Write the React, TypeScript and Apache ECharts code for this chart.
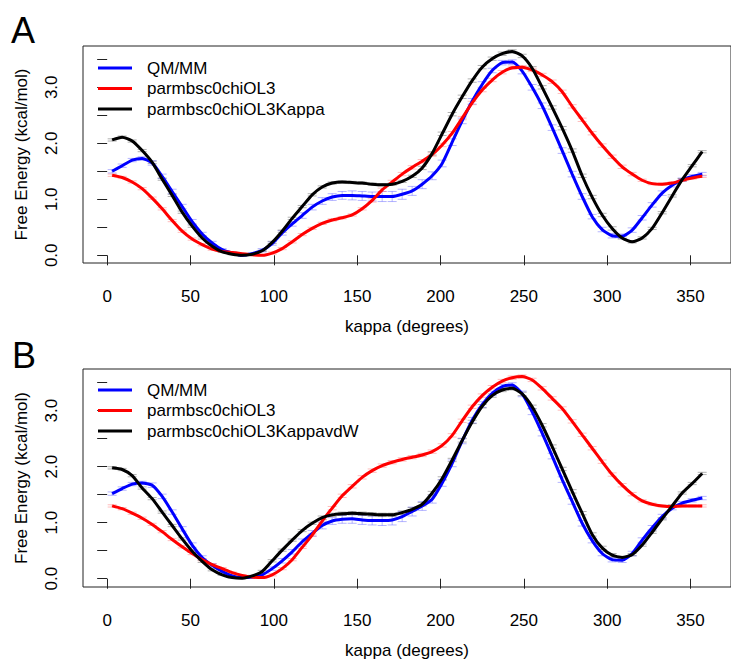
import React, { useEffect, useRef } from "react";
import * as echarts from "echarts";

// kappa (degrees) at which the free energy was sampled
const KAPPA = [3, 9, 15, 21, 27, 33, 39, 45, 51, 57, 63, 69, 75, 81, 87, 93, 99, 105, 111, 117,
  123, 129, 135, 141, 147, 153, 159, 165, 171, 177, 183, 189, 195, 201, 207, 213, 219, 225, 231, 237,
  243, 249, 255, 261, 267, 273, 279, 285, 291, 297, 303, 309, 315, 321, 327, 333, 339, 345, 351, 357];

// Panel A
const A_QMMM = [1.50, 1.60, 1.70, 1.73, 1.65, 1.41, 1.14, 0.87, 0.60, 0.38, 0.22, 0.10, 0.04, 0.00, 0.03, 0.09, 0.21, 0.40, 0.56, 0.71,
  0.86, 0.97, 1.04, 1.07, 1.07, 1.06, 1.05, 1.05, 1.05, 1.09, 1.15, 1.27, 1.42, 1.64, 2.02, 2.40, 2.75, 3.05, 3.30, 3.44,
  3.45, 3.29, 3.00, 2.67, 2.28, 1.87, 1.45, 1.05, 0.69, 0.46, 0.35, 0.34, 0.45, 0.67, 0.90, 1.11, 1.25, 1.35, 1.41, 1.45];
const A_QMMM_ERR = [0.03, 0.03, 0.03, 0.03, 0.04, 0.04, 0.04, 0.04, 0.04, 0.03, 0.03, 0.02, 0.02, 0.02, 0.02, 0.03, 0.03, 0.04, 0.04, 0.05,
  0.05, 0.06, 0.06, 0.07, 0.08, 0.08, 0.08, 0.09, 0.09, 0.09, 0.08, 0.08, 0.07, 0.06, 0.06, 0.05, 0.05, 0.05, 0.04, 0.04,
  0.04, 0.05, 0.05, 0.05, 0.05, 0.05, 0.05, 0.05, 0.04, 0.04, 0.04, 0.04, 0.04, 0.04, 0.04, 0.04, 0.03, 0.03, 0.03, 0.03];
const A_OL3 = [1.43, 1.39, 1.31, 1.19, 1.02, 0.83, 0.62, 0.43, 0.29, 0.19, 0.11, 0.07, 0.05, 0.03, 0.01, 0.00, 0.04, 0.12, 0.24, 0.37,
  0.48, 0.57, 0.63, 0.67, 0.72, 0.83, 0.98, 1.17, 1.31, 1.45, 1.57, 1.68, 1.80, 1.97, 2.18, 2.45, 2.72, 2.95, 3.13, 3.27,
  3.35, 3.36, 3.31, 3.22, 3.10, 2.92, 2.66, 2.42, 2.18, 1.96, 1.76, 1.58, 1.45, 1.34, 1.28, 1.27, 1.29, 1.34, 1.38, 1.41];
const A_OL3_ERR = [0.02, 0.02, 0.02, 0.02, 0.02, 0.02, 0.02, 0.02, 0.02, 0.02, 0.02, 0.01, 0.01, 0.01, 0.01, 0.01, 0.02, 0.02, 0.02, 0.02,
  0.02, 0.02, 0.02, 0.02, 0.02, 0.02, 0.03, 0.03, 0.03, 0.03, 0.03, 0.03, 0.03, 0.03, 0.03, 0.03, 0.03, 0.03, 0.03, 0.03,
  0.03, 0.03, 0.03, 0.03, 0.03, 0.03, 0.03, 0.03, 0.03, 0.03, 0.03, 0.03, 0.03, 0.02, 0.02, 0.02, 0.02, 0.02, 0.02, 0.02];
const A_KAPPA = [2.06, 2.11, 2.04, 1.87, 1.66, 1.36, 1.07, 0.77, 0.52, 0.31, 0.16, 0.06, 0.02, 0.00, 0.02, 0.08, 0.23, 0.43, 0.66, 0.87,
  1.08, 1.22, 1.29, 1.31, 1.30, 1.29, 1.27, 1.26, 1.27, 1.32, 1.41, 1.56, 1.82, 2.17, 2.52, 2.83, 3.12, 3.36, 3.51, 3.60,
  3.64, 3.56, 3.34, 3.00, 2.64, 2.27, 1.87, 1.42, 1.04, 0.72, 0.48, 0.31, 0.24, 0.31, 0.48, 0.76, 1.06, 1.35, 1.60, 1.85];
const A_KAPPA_ERR = [0.02, 0.02, 0.02, 0.02, 0.02, 0.02, 0.02, 0.02, 0.02, 0.02, 0.02, 0.01, 0.01, 0.01, 0.01, 0.01, 0.02, 0.02, 0.02, 0.02,
  0.02, 0.02, 0.02, 0.02, 0.02, 0.02, 0.02, 0.02, 0.02, 0.02, 0.02, 0.03, 0.03, 0.03, 0.03, 0.03, 0.03, 0.03, 0.03, 0.03,
  0.03, 0.03, 0.03, 0.03, 0.03, 0.03, 0.03, 0.03, 0.03, 0.03, 0.03, 0.02, 0.02, 0.02, 0.02, 0.02, 0.02, 0.02, 0.02, 0.02];

// Panel B
const B_QMMM = [1.52, 1.61, 1.69, 1.71, 1.67, 1.47, 1.19, 0.89, 0.60, 0.38, 0.24, 0.13, 0.05, 0.02, 0.03, 0.07, 0.18, 0.32, 0.48, 0.66,
  0.81, 0.95, 1.03, 1.06, 1.07, 1.05, 1.04, 1.04, 1.05, 1.11, 1.20, 1.30, 1.42, 1.71, 2.06, 2.46, 2.83, 3.11, 3.31, 3.43,
  3.46, 3.30, 2.98, 2.60, 2.19, 1.77, 1.38, 0.99, 0.68, 0.45, 0.34, 0.33, 0.45, 0.69, 0.91, 1.11, 1.26, 1.35, 1.40, 1.44];
const B_QMMM_ERR = A_QMMM_ERR;
const B_OL3 = [1.30, 1.25, 1.17, 1.08, 0.97, 0.84, 0.70, 0.57, 0.45, 0.34, 0.25, 0.18, 0.11, 0.06, 0.03, 0.02, 0.07, 0.18, 0.34, 0.56,
  0.78, 1.03, 1.26, 1.48, 1.65, 1.81, 1.93, 2.02, 2.08, 2.13, 2.17, 2.21, 2.27, 2.38, 2.56, 2.82, 3.07, 3.27, 3.42, 3.53,
  3.59, 3.61, 3.55, 3.40, 3.22, 3.04, 2.81, 2.57, 2.33, 2.09, 1.86, 1.67, 1.51, 1.39, 1.33, 1.30, 1.29, 1.30, 1.30, 1.30];
const B_OL3_ERR = [0.02, 0.02, 0.02, 0.02, 0.02, 0.02, 0.02, 0.02, 0.02, 0.02, 0.02, 0.02, 0.01, 0.01, 0.01, 0.01, 0.02, 0.02, 0.02, 0.02,
  0.02, 0.02, 0.03, 0.03, 0.03, 0.03, 0.03, 0.03, 0.03, 0.03, 0.03, 0.03, 0.03, 0.03, 0.03, 0.03, 0.03, 0.03, 0.03, 0.03,
  0.03, 0.03, 0.03, 0.03, 0.03, 0.03, 0.03, 0.03, 0.03, 0.03, 0.03, 0.03, 0.03, 0.02, 0.02, 0.02, 0.02, 0.02, 0.02, 0.02];
const B_KAPPAVDW = [1.98, 1.95, 1.84, 1.62, 1.43, 1.19, 0.95, 0.71, 0.49, 0.31, 0.16, 0.07, 0.02, 0.01, 0.05, 0.13, 0.32, 0.51, 0.69, 0.86,
  0.99, 1.09, 1.14, 1.16, 1.17, 1.16, 1.15, 1.14, 1.14, 1.18, 1.24, 1.33, 1.53, 1.79, 2.12, 2.47, 2.80, 3.08, 3.27, 3.37,
  3.40, 3.30, 3.07, 2.74, 2.36, 1.96, 1.56, 1.17, 0.79, 0.55, 0.42, 0.38, 0.43, 0.60, 0.83, 1.07, 1.30, 1.53, 1.70, 1.88];
const B_KAPPAVDW_ERR = [0.02, 0.02, 0.02, 0.02, 0.02, 0.02, 0.02, 0.02, 0.02, 0.02, 0.02, 0.01, 0.01, 0.01, 0.01, 0.02, 0.02, 0.02, 0.02, 0.02,
  0.02, 0.03, 0.03, 0.03, 0.03, 0.03, 0.03, 0.03, 0.03, 0.03, 0.03, 0.03, 0.03, 0.03, 0.03, 0.03, 0.03, 0.03, 0.03, 0.03,
  0.03, 0.03, 0.03, 0.03, 0.03, 0.03, 0.03, 0.03, 0.03, 0.03, 0.03, 0.02, 0.02, 0.02, 0.02, 0.02, 0.02, 0.02, 0.02, 0.02];

const X_TICKS = [0, 50, 100, 150, 200, 250, 300, 350];
const Y_TICKS = [0, 0.5, 1, 1.5, 2, 2.5, 3, 3.5];
const Y_LABELS = [0, 1, 2, 3];

const NAMES_A = ["QM/MM", "parmbsc0chiOL3", "parmbsc0chiOL3Kappa"];
const NAMES_B = ["QM/MM", "parmbsc0chiOL3", "parmbsc0chiOL3KappavdW"];
const COLORS = ["#0000ff", "#ff0000", "#000000"];
const ERR_COLORS = ["rgba(90,90,255,0.45)", "rgba(255,90,90,0.4)", "rgba(60,60,60,0.4)"];

const FONT = '"Liberation Sans", Arial, Helvetica, sans-serif';

function xAxis(gridIndex: number) {
  return {
    type: "value",
    gridIndex,
    min: -14.5,
    max: 374.3,
    name: "kappa (degrees)",
    nameLocation: "middle",
    nameGap: 55,
    nameTextStyle: { fontFamily: FONT, fontSize: 17, color: "#000" },
    axisLine: { show: false },
    axisTick: { show: true, inside: false, length: 10, customValues: X_TICKS, lineStyle: { color: "#222", width: 1 } },
    axisLabel: { show: true, customValues: X_TICKS, margin: 25, fontFamily: FONT, fontSize: 17, color: "#000" },
    splitLine: { show: false },
  };
}

function yAxis(gridIndex: number, min: number, max: number) {
  return {
    type: "value",
    gridIndex,
    min,
    max,
    name: "Free Energy (kcal/mol)",
    nameLocation: "middle",
    nameGap: 53,
    nameRotate: 90,
    nameTextStyle: { fontFamily: FONT, fontSize: 17, color: "#000" },
    axisLine: { show: false },
    axisTick: { show: true, inside: false, length: 10, customValues: Y_TICKS, lineStyle: { color: "#222", width: 1 } },
    axisLabel: {
      show: true,
      customValues: Y_LABELS,
      rotate: 90,
      margin: 23,
      fontFamily: FONT,
      fontSize: 17,
      color: "#000",
      formatter: (v: number) => v.toFixed(1),
    },
    splitLine: { show: false },
  };
}

function lineSeries(name: string, ys: number[], color: string, idx: number) {
  return {
    type: "line",
    name,
    xAxisIndex: idx,
    yAxisIndex: idx,
    data: KAPPA.map((k, i) => [k, ys[i]]),
    symbol: "none",
    smooth: 0.2,
    lineStyle: { color, width: 3 },
    itemStyle: { color },
    z: 3,
  };
}

function errorSeries(name: string, ys: number[], errs: number[], color: string, idx: number) {
  return {
    type: "custom",
    name: name + " (error)",
    xAxisIndex: idx,
    yAxisIndex: idx,
    data: KAPPA.map((k, i) => [k, ys[i], errs[i]]),
    z: 1,
    silent: true,
    renderItem: (_params: any, api: any) => {
      const x = api.value(0);
      const y = api.value(1);
      const e = api.value(2);
      const hi = api.coord([x, y + e]);
      const lo = api.coord([x, y - e]);
      const hw = 4.5;
      const st = { stroke: color, lineWidth: 1 };
      return {
        type: "group",
        children: [
          { type: "line", shape: { x1: hi[0], y1: hi[1], x2: lo[0], y2: lo[1] }, style: st },
          { type: "line", shape: { x1: hi[0] - hw, y1: hi[1], x2: hi[0] + hw, y2: hi[1] }, style: st },
          { type: "line", shape: { x1: lo[0] - hw, y1: lo[1], x2: lo[0] + hw, y2: lo[1] }, style: st },
        ],
      };
    },
  };
}

function legend(top: number, names: string[]) {
  return {
    orient: "vertical",
    left: 98,
    top,
    padding: 0,
    icon: "rect",
    itemWidth: 34,
    itemHeight: 3,
    itemGap: 2.5,
    selectedMode: false,
    data: names,
    textStyle: { fontFamily: FONT, fontSize: 17, color: "#000", lineHeight: 18, padding: [0, 0, 0, 10] },
  };
}

export default function App() {
  const ref = useRef<HTMLDivElement>(null);
  useEffect(() => {
    if (!ref.current) return;
    const chart = echarts.init(ref.current, undefined, { renderer: "svg" });
    chart.setOption({
      animation: false,
      backgroundColor: "#ffffff",
      grid: [
        { left: 83, top: 46, width: 651, height: 217, show: true, borderColor: "#222", borderWidth: 1, backgroundColor: "transparent" },
        { left: 83, top: 369, width: 651, height: 218, show: true, borderColor: "#222", borderWidth: 1, backgroundColor: "transparent" },
      ],
      xAxis: [xAxis(0), xAxis(1)],
      yAxis: [yAxis(0, -0.1375, 3.7375), yAxis(1, -0.148, 3.745)],
      legend: [legend(59, NAMES_A), legend(381, NAMES_B)],
      series: [
        errorSeries(NAMES_A[0], A_QMMM, A_QMMM_ERR, ERR_COLORS[0], 0),
        errorSeries(NAMES_A[1], A_OL3, A_OL3_ERR, ERR_COLORS[1], 0),
        errorSeries(NAMES_A[2], A_KAPPA, A_KAPPA_ERR, ERR_COLORS[2], 0),
        errorSeries(NAMES_B[0], B_QMMM, B_QMMM_ERR, ERR_COLORS[0], 1),
        errorSeries(NAMES_B[1], B_OL3, B_OL3_ERR, ERR_COLORS[1], 1),
        errorSeries(NAMES_B[2], B_KAPPAVDW, B_KAPPAVDW_ERR, ERR_COLORS[2], 1),
        lineSeries(NAMES_A[0], A_QMMM, COLORS[0], 0),
        lineSeries(NAMES_A[1], A_OL3, COLORS[1], 0),
        lineSeries(NAMES_A[2], A_KAPPA, COLORS[2], 0),
        lineSeries(NAMES_B[0], B_QMMM, COLORS[0], 1),
        lineSeries(NAMES_B[1], B_OL3, COLORS[1], 1),
        lineSeries(NAMES_B[2], B_KAPPAVDW, COLORS[2], 1),
      ],
      graphic: [
        { type: "text", left: 11, top: 12, style: { text: "A", fontFamily: FONT, fontSize: 36, fill: "#000" } },
        { type: "text", left: 12, top: 337, style: { text: "B", fontFamily: FONT, fontSize: 36, fill: "#000" } },
      ],
    });
    return () => chart.dispose();
  }, []);
  return <div ref={ref} style={{ position: "fixed", left: 0, top: 0, width: 731, height: 660 }} />;
}
